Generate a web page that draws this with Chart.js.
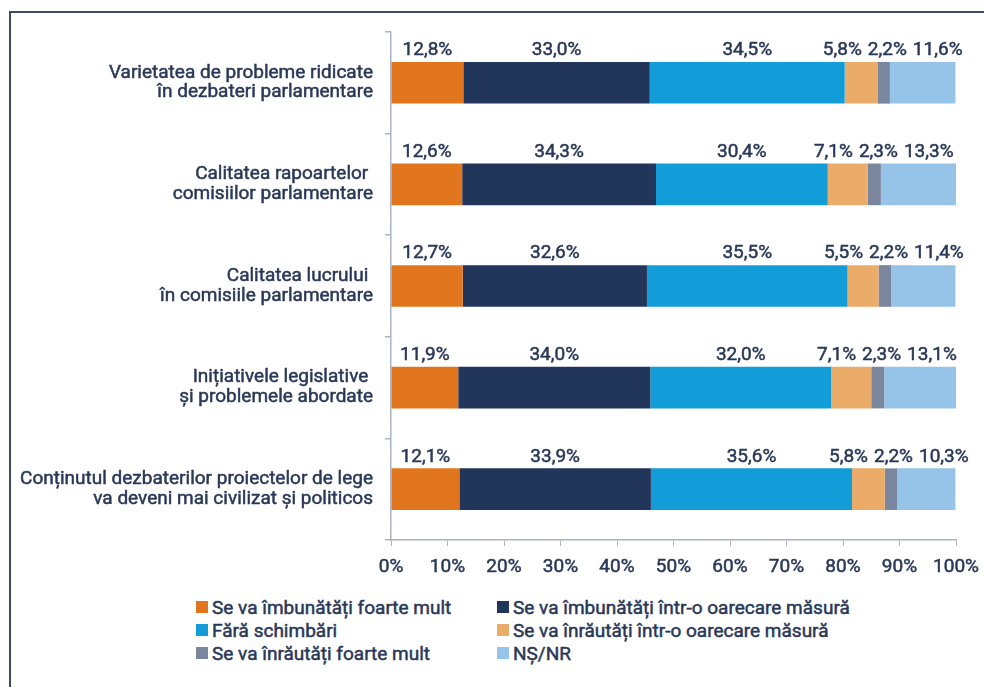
<!DOCTYPE html>
<html>
<head>
<meta charset="utf-8">
<script src="https://cdn.jsdelivr.net/npm/chart.js@4/dist/chart.umd.min.js"></script>
<style>
    html, body { margin: 0; padding: 0; background: #fff; }
    body { width: 984px; height: 687px; position: relative; overflow: hidden; font-family: Roboto, "Noto Sans", sans-serif; }
    #frame { position: absolute; left: 9px; top: 11px; right: -4px; bottom: -4px; border-left: 2px solid #3f4b66; border-top: 2px solid #3f4b66; }
    #wrap { position: absolute; left: 0; top: 0; width: 984px; height: 590px; }
    #legend { position: absolute; left: 196px; top: 597px; display: grid; grid-template-columns: 301px 400px; row-gap: 3px; }
    .item { display: flex; align-items: center; height: 20px; font-size: 19px; color: #2a3858; white-space: nowrap; -webkit-text-stroke: 0.5px #2a3858; }
    .box { width: 12px; height: 12px; margin-right: 4px; flex: none; }
</style>
</head>
<body>
<div id="frame"></div>
<div id="wrap"><canvas id="chart"></canvas></div>
<div id="legend"></div>
<script>
const categories = [
    ['Varietatea de probleme ridicate', 'în dezbateri parlamentare'],
    ['Calitatea rapoartelor ', 'comisiilor parlamentare'],
    ['Calitatea lucrului ', 'în comisiile parlamentare'],
    ['Inițiativele legislative ', 'și problemele abordate'],
    ['Conținutul dezbaterilor proiectelor de lege', 'va deveni mai civilizat și politicos']
];
const seriesNames = [
    'Se va îmbunătăți foarte mult',
    'Se va îmbunătăți într-o oarecare măsură',
    'Fără schimbări',
    'Se va înrăutăți într-o oarecare măsură',
    'Se va înrăutăți foarte mult',
    'NȘ/NR'
];
const foarteMult = [12.8, 12.6, 12.7, 11.9, 12.1];
const oarecareBine = [33.0, 34.3, 32.6, 34.0, 33.9];
const faraSchimbari = [34.5, 30.4, 35.5, 32.0, 35.6];
const oarecareRau = [5.8, 7.1, 5.5, 7.1, 5.8];
const foarteRau = [2.2, 2.3, 2.2, 2.3, 2.2];
const nsnr = [11.6, 13.3, 11.4, 13.1, 10.3];
const xTicks = [0, 10, 20, 30, 40, 50, 60, 70, 80, 90, 100];

const colors = ['#e2761f', '#22355b', '#139dd8', '#ebab69', '#7a859e', '#96c3e8'];
const textColor = '#2a3858';
const axisColor = '#aab3c4';
const font = 'Roboto, "Noto Sans", sans-serif';
const fontSize = 19;
const stroke = 0.5;

const seriesValues = [foarteMult, oarecareBine, faraSchimbari, oarecareRau, foarteRau, nsnr];

function fmt(v) {
    return v.toFixed(1).replace('.', ',') + '%';
}

// labels above every segment, pushed apart where they would overlap
const labelPlugin = {
    id: 'segmentLabels',
    afterDatasetsDraw(chart) {
        const ctx = chart.ctx;
        ctx.save();
        ctx.font = fontSize + 'px ' + font;
        ctx.fillStyle = textColor;
        ctx.strokeStyle = textColor;
        ctx.lineWidth = stroke;
        ctx.textAlign = 'center';
        ctx.textBaseline = 'bottom';
        const gap = 6;
        categories.forEach((c, i) => {
            const items = chart.data.datasets.map((ds, d) => {
                const el = chart.getDatasetMeta(d).data[i];
                const text = fmt(ds.data[i]);
                return { text, x: (el.x + el.base) / 2, w: ctx.measureText(text).width, top: el.y - el.height / 2 };
            });
            for (let it = 0; it < 50; it++) {
                for (let k = 0; k < items.length - 1; k++) {
                    const a = items[k], b = items[k + 1];
                    const need = (a.w + b.w) / 2 + gap;
                    const have = b.x - a.x;
                    if (have < need) {
                        const s = (need - have) / 2;
                        a.x -= s;
                        b.x += s;
                    }
                }
            }
            items.forEach(p => {
                ctx.fillText(p.text, p.x, p.top - 2);
                ctx.strokeText(p.text, p.x, p.top - 2);
            });
        });
        ctx.restore();
    }
};

const chart = new Chart(document.getElementById('chart'), {
    type: 'bar',
    data: {
        labels: categories,
        datasets: seriesNames.map((name, i) => ({
            label: name,
            data: seriesValues[i],
            backgroundColor: colors[i],
            borderWidth: 0,
            barPercentage: 0.41,
            categoryPercentage: 1
        }))
    },
    options: {
        indexAxis: 'y',
        responsive: true,
        maintainAspectRatio: false,
        animation: false,
        layout: { padding: { top: 30, right: 28, left: 0, bottom: 0 } },
        plugins: {
            legend: { display: false },
            tooltip: { enabled: false }
        },
        scales: {
            x: {
                stacked: true,
                min: 0,
                max: 100,
                afterBuildTicks: scale => { scale.ticks = xTicks.map(v => ({ value: v })); },
                afterFit: scale => {
                    scale.height = 50;
                    scale.paddingLeft = 0;
                    scale.paddingRight = 0;
                },
                ticks: {
                    callback: v => v + '%',
                    color: textColor,
                    textStrokeColor: textColor,
                    textStrokeWidth: stroke,
                    font: { family: font, size: fontSize },
                    padding: 10,
                    maxRotation: 0
                },
                grid: { drawOnChartArea: false, drawTicks: true, tickLength: 6, color: axisColor },
                border: { display: true, color: axisColor, width: 1.5 }
            },
            y: {
                stacked: true,
                afterFit: scale => { scale.width = 391; },
                ticks: {
                    color: textColor,
                    textStrokeColor: textColor,
                    textStrokeWidth: stroke,
                    font: { family: font, size: fontSize, lineHeight: 1.05 },
                    padding: 12
                },
                grid: { offset: true, drawOnChartArea: false, drawTicks: true, tickLength: 6, color: axisColor, lineWidth: 1.5 },
                border: { display: true, color: axisColor, width: 1.5 }
            }
        }
    },
    plugins: [labelPlugin]
});

const legend = document.getElementById('legend');
chart.data.datasets.forEach(ds => {
    const item = document.createElement('div');
    item.className = 'item';
    item.innerHTML = '<span class="box" style="background:' + ds.backgroundColor + '"></span><span>' + ds.label + '</span>';
    legend.appendChild(item);
});
</script>
</body>
</html>
